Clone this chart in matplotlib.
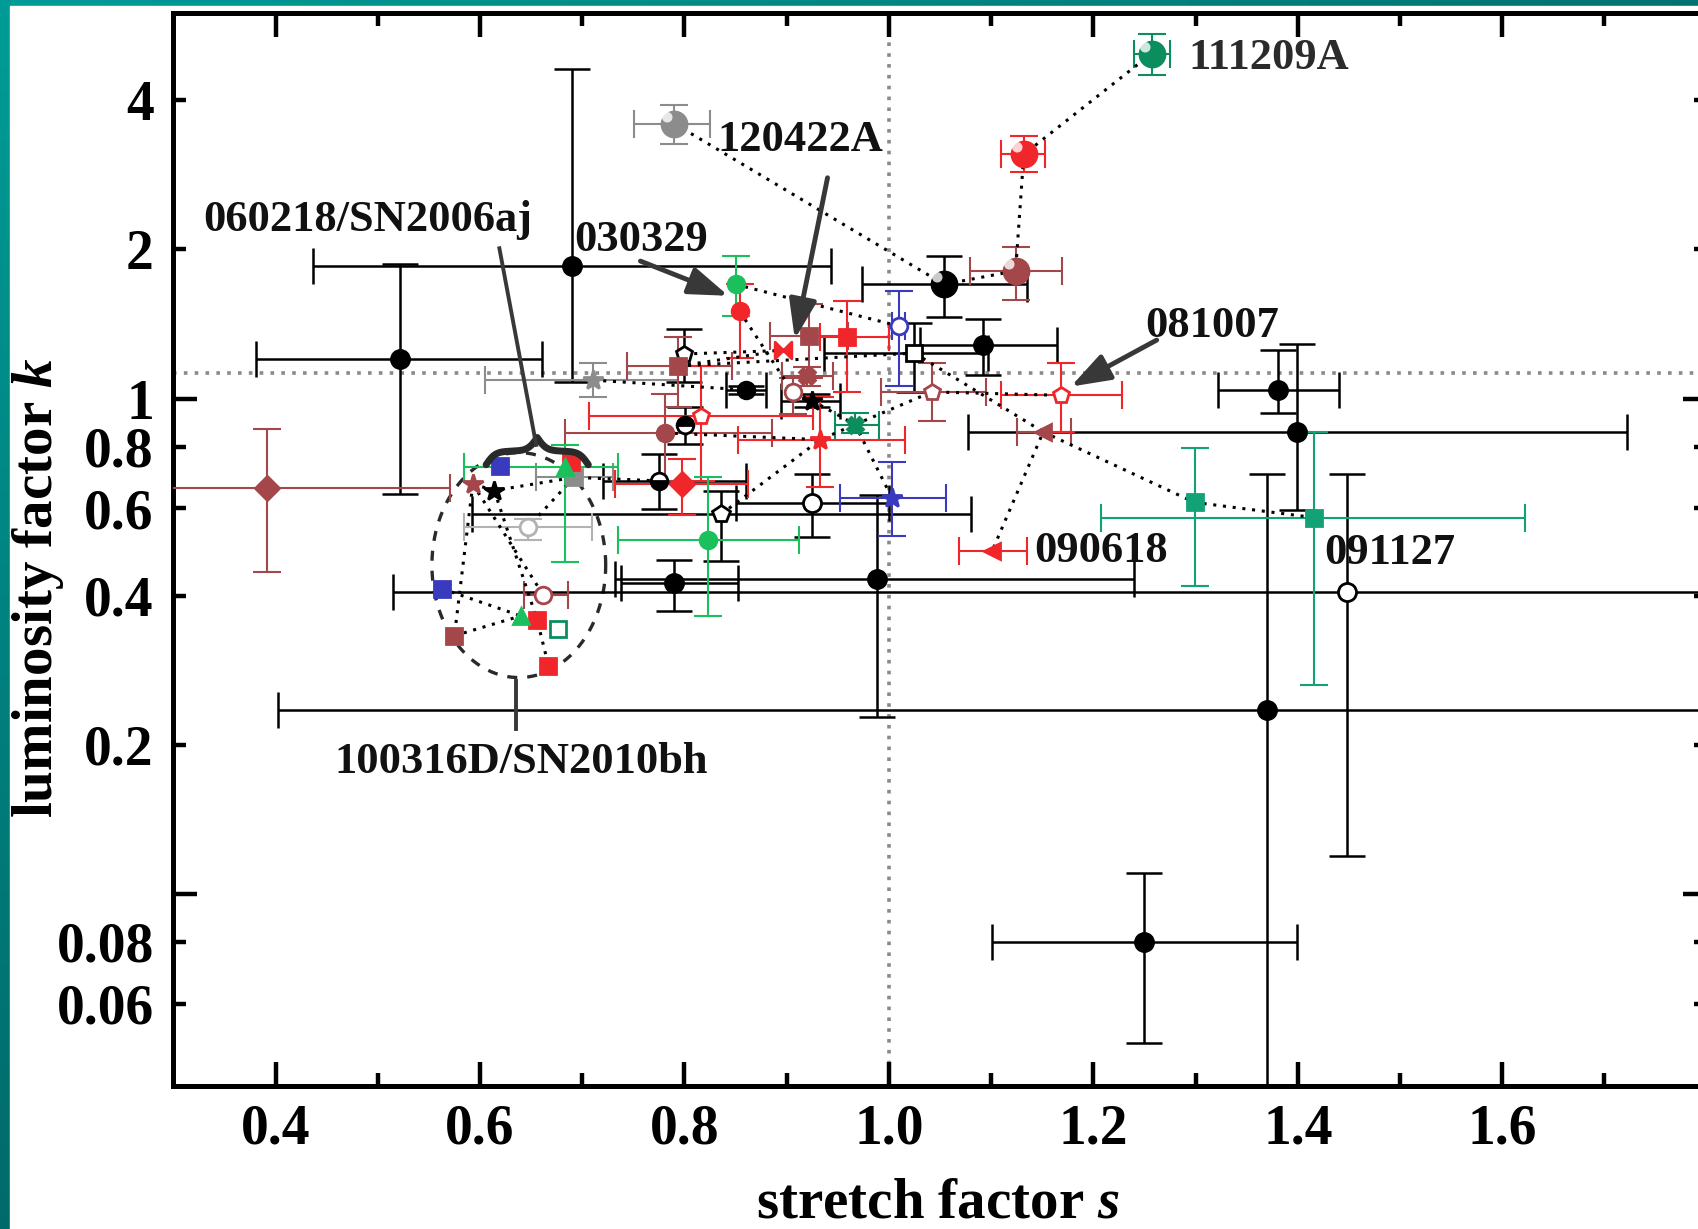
import numpy as np
import matplotlib
matplotlib.use("Agg")
import matplotlib.pyplot as plt
from matplotlib.path import Path
from matplotlib.patches import Rectangle
from matplotlib.ticker import FixedLocator, FixedFormatter

plt.rcParams["font.family"] = ["Liberation Serif", "DejaVu Serif"]
plt.rcParams["font.weight"] = "bold"
plt.rcParams["mathtext.fontset"] = "custom"
plt.rcParams["mathtext.rm"] = "Liberation Serif:bold"
plt.rcParams["mathtext.it"] = "Liberation Serif:italic:bold"
plt.rcParams["mathtext.bf"] = "Liberation Serif:bold"

# stretch factor s, luminosity factor k and their error limits
s_val = [0.522, 0.690, 1.250, 1.370, 1.381, 1.399, 0.988, 0.790, 1.092, 1.448,
         0.925, 0.836, 0.800, 1.025, 0.860, 0.925, 0.801, 0.775, 0.614, 1.054,
         0.790, 0.711, 0.692, 0.647, 1.124, 0.392, 0.922, 0.794, 0.920, 0.906,
         1.042, 1.151, 0.781, 0.593, 0.662, 0.575, 1.132, 0.854, 0.959, 0.896,
         0.816, 0.933, 0.798, 1.168, 1.101, 0.689, 0.656, 0.667, 0.850, 0.823,
         0.683, 0.640, 1.257, 0.967, 1.299, 1.416, 0.676, 1.010, 1.003, 0.620,
         0.563]
k_val = [1.20, 1.85, 0.080, 0.235, 1.04, 0.856, 0.432, 0.425, 1.28, 0.407,
         0.614, 0.584, 1.23, 1.235, 1.041, 0.99, 0.886, 0.682, 0.652, 1.70,
         3.59, 1.089, 0.693, 0.550, 1.81, 0.659, 1.34, 1.163, 1.11, 1.031,
         1.031, 0.856, 0.852, 0.672, 0.401, 0.332, 3.11, 1.50, 1.33, 1.25,
         0.923, 0.826, 0.672, 1.015, 0.492, 0.743, 0.357, 0.289, 1.70, 0.518,
         0.729, 0.364, 4.97, 0.886, 0.617, 0.575, 0.343, 1.40, 0.630, 0.732,
         0.413]
s_lo = [0.381, 0.437, 1.101, 0.402, 1.322, 1.077, 0.732, 0.738, 1.030, 0.515,
        0.850, 0.592, 0.800, 0.937, 0.841, 0.894, 0.801, 0.720, 0.614, 0.974,
        0.751, 0.605, 0.655, 0.584, 1.079, 0.250, 0.884, 0.744, 0.895, 0.906,
        0.992, 1.125, 0.683, 0.593, 0.643, 0.575, 1.110, 0.854, 0.933, 0.896,
        0.707, 0.852, 0.732, 1.110, 1.069, 0.689, 0.656, 0.667, 0.850, 0.735,
        0.584, 0.640, 1.240, 0.947, 1.299, 1.208, 0.676, 1.003, 0.952, 0.620,
        0.563]
s_hi = [0.661, 0.943, 1.399, 2.000, 1.440, 1.722, 1.240, 0.852, 1.164, 2.000,
        1.000, 1.080, 0.800, 1.097, 0.880, 0.952, 0.801, 0.860, 0.614, 1.135,
        0.825, 0.794, 0.730, 0.710, 1.169, 0.571, 0.960, 0.847, 0.945, 0.906,
        1.095, 1.178, 0.886, 0.593, 0.686, 0.575, 1.153, 0.854, 1.000, 0.896,
        0.926, 1.016, 0.862, 1.228, 1.135, 0.689, 0.656, 0.667, 0.850, 0.912,
        0.735, 0.640, 1.275, 0.990, 1.299, 1.622, 0.676, 1.016, 1.056, 0.620,
        0.563]
k_lo = [0.642, 1.078, 0.050, 0.020, 0.937, 0.596, 0.228, 0.373, 1.117, 0.119,
        0.525, 0.470, 1.078, 1.031, 1.020, 0.960, 0.810, 0.599, 0.652, 1.46,
        3.26, 1.005, 0.693, 0.518, 1.58, 0.447, 1.10, 0.960, 1.06, 0.930,
        0.900, 0.856, 0.682, 0.672, 0.401, 0.332, 2.86, 1.205, 1.03, 1.25,
        0.682, 0.662, 0.581, 0.856, 0.492, 0.743, 0.357, 0.289, 1.47, 0.364,
        0.468, 0.364, 4.50, 0.852, 0.419, 0.264, 0.343, 1.062, 0.528, 0.732,
        0.413]
k_hi = [1.87, 4.63, 0.110, 0.703, 1.25, 1.29, 0.639, 0.473, 1.45, 0.703,
        0.703, 0.650, 1.38, 1.42, 1.06, 1.02, 0.960, 0.774, 0.652, 1.94,
        3.91, 1.18, 0.693, 0.572, 2.02, 0.869, 1.55, 1.33, 1.16, 1.10,
        1.18, 0.856, 1.02, 0.672, 0.401, 0.332, 3.39, 1.70, 1.57, 1.25,
        1.163, 1.005, 0.755, 1.18, 0.492, 0.743, 0.357, 0.289, 1.94, 0.693,
        0.806, 0.364, 5.44, 0.937, 0.794, 0.856, 0.343, 1.65, 0.743, 0.732,
        0.413]

# band / colour group of every point
band = ["k"] * 20 + ["gray", "gray", "gray", "lgray"] + ["brown"] * 12 + ["red"] * 12 \
       + ["green"] * 4 + ["dkgreen", "dkgreen", "teal", "teal", "dkgreen"] + ["blue"] * 4

# dotted tracks joining the same burst (indices into the arrays above)
tracks = [[20, 19, 24, 36, 52], [48, 57], [27, 39], [27, 13], [12, 39], [21, 14],
          [37, 29, 15, 53, 58], [53, 30, 43], [13, 31, 44], [31, 54, 55],
          [11, 41, 53], [32, 41], [33, 18, 22, 17], [33, 35], [33, 34], [18, 46],
          [22, 23], [60, 51], [35, 51], [51, 46, 47]]

k_ref = 1.128
s_ref = 1.0

palette = {"k": "#000000", "gray": "#8c8c8c", "lgray": "#b2b2b2", "brown": "#a4474b",
           "red": "#f0262a", "green": "#19c05c", "dkgreen": "#0b8d5e", "teal": "#12a276",
           "blue": "#3a3abf"}
bowtie = Path([(-1, -1), (1, 1), (1, -1), (-1, 1), (-1, -1)],
              [Path.MOVETO, Path.LINETO, Path.LINETO, Path.LINETO, Path.CLOSEPOLY])
markers = ["o"] * 9 + ["o", "o", "p", "p", "s", "o", "*", "o", "o", "*", "o",
           "o", "*", "s", "o", "o", "D", "s", "s", "X", "o", "p", "<", "o", "*", "o", "s",
           "o", "o", "s", bowtie, "p", "*", "D", "p", "<", "s", "s", "s",
           "o", "o", "^", "^", "o", "X", "s", "s", "s", "o", "*", "s", "s"]
hollow = {9, 10, 11, 12, 13, 23, 29, 30, 34, 40, 43, 56, 57}
spheres = {19, 20, 24, 36, 52}
fills = {16: "top", 17: "bottom"}

fig = plt.figure(figsize=(16.99, 12.29), dpi=100)

# teal frame on the left and top edges
bg = fig.add_axes([0, 0, 1, 1], zorder=-5)
bg.axis("off")
gx, gy = np.meshgrid(np.linspace(0, 1, 200), np.linspace(0, 1, 200))
t = np.clip(0.5 * gx + 0.6 * gy, 0, 1)[..., None]
c0, c1 = np.array([0.0, 0.61, 0.59]), np.array([0.0, 0.29, 0.30])
bg.imshow(c0 * (1 - t) + c1 * t, extent=[0, 1, 0, 1], aspect="auto")
bg.add_patch(Rectangle((10 / 1699, 0), 1, 1 - 6 / 1229, color="white", transform=bg.transAxes))
bg.set_xlim(0, 1)
bg.set_ylim(0, 1)

ax = fig.add_axes([0.102, 0.1166, 0.9025, 0.8728])
ax.set_yscale("log")
ax.set_xlim(0.3, 1.8)
ax.set_ylim(0.041, 6.0)

ax.axhline(k_ref, color="#8a8a8a", lw=2.6, ls=(0, (1.0, 2.0)), zorder=1)
ax.axvline(s_ref, color="#8a8a8a", lw=2.6, ls=(0, (1.0, 2.0)), zorder=1)

sv, kv = np.array(s_val), np.array(k_val)
for tr in tracks:
    ax.plot(sv[tr], kv[tr], ls=(0, (1, 2.2)), color="black", lw=2.2, zorder=4)

for i in range(len(s_val)):
    c = palette[band[i]]
    big = band[i] == "k" and i < 12
    lw = 1.8 if band[i] == "k" else 1.5
    cap = 13 if band[i] == "k" else 10
    xe = [[s_val[i] - s_lo[i]], [s_hi[i] - s_val[i]]] if s_hi[i] > s_lo[i] else None
    ye = [[k_val[i] - k_lo[i]], [k_hi[i] - k_val[i]]] if k_hi[i] > k_lo[i] else None
    if xe is not None or ye is not None:
        ax.errorbar(s_val[i], k_val[i], xerr=xe, yerr=ye, fmt="none", ecolor=c,
                    elinewidth=lw, capsize=cap, capthick=lw, zorder=3)
    if i in spheres:
        ms = 18
    elif markers[i] == "*":
        ms = 15
    elif big:
        ms = 13
    else:
        ms = 12
    face = "white" if i in hollow else c
    ax.plot(s_val[i], k_val[i], marker=markers[i], ms=ms, mfc=face, mec=c, mew=2.0,
            fillstyle=fills.get(i, "full"), mfcalt="white", ls="none", zorder=5)
    if i in spheres:
        ax.plot(s_val[i], k_val[i], marker=Path.circle(center=(-0.22, 0.22), radius=0.16),
                ms=ms, mfc="white", mec="none", alpha=0.8, ls="none", zorder=6)

# dashed ellipse round the 100316D/SN2010bh group and brace over 060218/SN2006aj
ell = np.linspace(0, 2 * np.pi, 400)
ax.plot(0.638 + 0.085 * np.cos(ell), 0.461 * 10 ** (0.227 * np.sin(ell)),
        ls=(0, (3, 3)), color="#2a2a2a", lw=2.4, zorder=2)
bx = np.linspace(0, 0.5, 150)
by = 1 / (1 + np.exp(-22 * bx)) + 1 / (1 + np.exp(-22 * (bx - 0.5)))
by = np.concatenate([by, by[-2::-1]])
by = (by - by.min()) / (by.max() - by.min())
ax.plot(np.linspace(0.606, 0.706, len(by)), 0.735 * 10 ** (0.055 * by),
        color="#2a2a2a", lw=5, solid_capstyle="round", zorder=6)

txt = dict(fontsize=32, fontweight="bold", ha="center", va="center", color="#111111", zorder=7)
ax.text(1.372, 4.87, "111209A", **{**txt, "color": "#2b2b2b"})
ax.text(0.913, 3.33, "120422A", **txt)
ax.text(0.490, 2.29, "060218/SN2006aj", **txt)
ax.text(0.758, 2.09, "030329", **txt)
ax.text(1.316, 1.40, "081007", **txt)
ax.text(1.208, 0.492, "090618", **txt)
ax.text(1.490, 0.487, "091127", **txt)
ax.text(0.640, 0.1847, "100316D/SN2010bh", **txt)

arrow = dict(arrowstyle="-|>,head_length=0.8,head_width=0.28", color="#383838",
             lw=3.5, mutation_scale=30, shrinkA=0, shrinkB=0)
ax.annotate("", xy=(0.843, 1.612), xytext=(0.757, 1.894), arrowprops=arrow, zorder=7)
ax.annotate("", xy=(0.908, 1.318), xytext=(0.940, 2.79), arrowprops=arrow, zorder=7)
ax.annotate("", xy=(1.178, 1.057), xytext=(1.262, 1.312), arrowprops=arrow, zorder=7)
ax.plot([0.619, 0.655], [2.01, 0.806], color="#383838", lw=2.8, zorder=7)
ax.plot([0.635, 0.635], [0.269, 0.2147], color="#383838", lw=2.8, zorder=7)

# ticks
ax.xaxis.set_major_locator(FixedLocator([0.4, 0.6, 0.8, 1.0, 1.2, 1.4, 1.6]))
ax.xaxis.set_major_formatter(FixedFormatter(["0.4", "0.6", "0.8", "1.0", "1.2", "1.4", "1.6"]))
ax.xaxis.set_minor_locator(FixedLocator([0.5, 0.7, 0.9, 1.1, 1.3, 1.5, 1.7]))
ax.yaxis.set_major_locator(FixedLocator([0.1, 1.0]))
ax.yaxis.set_major_formatter(FixedFormatter(["", "1"]))
ax.yaxis.set_minor_locator(FixedLocator([0.06, 0.08, 0.2, 0.4, 0.6, 0.8, 2, 4]))
ax.yaxis.set_minor_formatter(FixedFormatter(["0.06", "0.08", "0.2", "0.4", "0.6", "0.8", "2", "4"]))
ax.tick_params(which="both", direction="in", top=True, right=True, width=3.2,
               labelsize=40, colors="black")
ax.tick_params(axis="x", which="major", length=17, pad=13)
ax.tick_params(axis="x", which="minor", length=9.5)
ax.tick_params(axis="y", which="major", length=17, pad=14)
ax.tick_params(axis="y", which="minor", length=9.5, pad=14)
for sp in ax.spines.values():
    sp.set_linewidth(3.6)

fig.text(0.5523, 0.009, "stretch factor $s$", fontsize=41, fontweight="bold",
         ha="center", va="baseline")
fig.text(0.0223, 0.522, "luminosity factor $k$", fontsize=41, fontweight="bold",
         rotation=90, ha="center", va="center")

fig.savefig("out.png", dpi=100)
